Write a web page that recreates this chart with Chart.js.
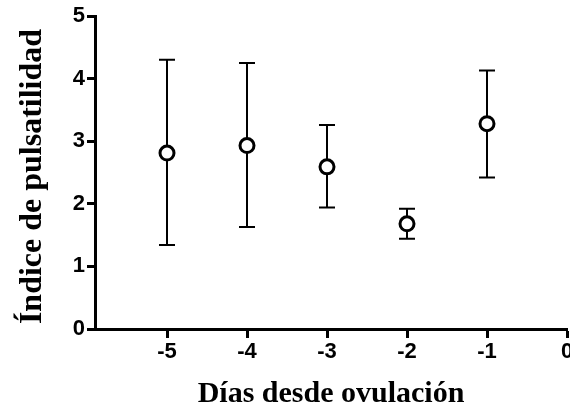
<!DOCTYPE html>
<html>
<head>
<meta charset="utf-8">
<script src="https://cdn.jsdelivr.net/npm/chart.js@4"></script>
<style>
  html, body { margin: 0; padding: 0; background: #fff; overflow: hidden; }
  #wrap { width: 570px; height: 407px; }
</style>
</head>
<body>
<div id="wrap"><canvas id="mycanvas"></canvas></div>
<script>
var days = [-5, -4, -3, -2, -1];
var media = [2.81, 2.93, 2.59, 1.68, 3.28];
var lower = [1.34, 1.63, 1.94, 1.44, 2.42];
var upper = [4.30, 4.25, 3.26, 1.92, 4.13];
var xTicks = [-5, -4, -3, -2, -1, 0];
var yTicks = [0, 1, 2, 3, 4, 5];

var points = [];
for (var i in days) {
  points.push({x: days[i], y: media[i]});
}

// error bars drawn with the chart scales, under the circles
var errorBars = {
  id: 'errorBars',
  beforeDatasetsDraw: function(chart) {
    var ctx = chart.ctx;
    var xs = chart.scales.x, ys = chart.scales.y;
    ctx.save();
    ctx.strokeStyle = '#000';
    ctx.lineWidth = 2;
    for (var i = 0; i < days.length; i++) {
      var px = xs.getPixelForValue(days[i]);
      var top = ys.getPixelForValue(upper[i]);
      var bot = ys.getPixelForValue(lower[i]);
      ctx.beginPath();
      ctx.moveTo(px, top); ctx.lineTo(px, bot);
      ctx.moveTo(px - 8, top); ctx.lineTo(px + 8, top);
      ctx.moveTo(px - 8, bot); ctx.lineTo(px + 8, bot);
      ctx.stroke();
    }
    ctx.restore();
  }
};

var tickFont = {family: 'Liberation Sans, Arial, sans-serif', size: 22, weight: 'bold'};
var titleFont = {family: 'Liberation Serif, Times New Roman, serif', size: 30, weight: 'bold', lineHeight: 1};

var ctx = document.getElementById('mycanvas');
var chart = new Chart(ctx, {
  type: 'scatter',
  data: {
    datasets: [{
      data: points,
      pointRadius: 7,
      pointBorderWidth: 3,
      pointBackgroundColor: '#fff',
      pointBorderColor: '#000',
      showLine: false
    }]
  },
  options: {
    responsive: true,
    maintainAspectRatio: false,
    animation: false,
    layout: {autoPadding: false, padding: {top: 16, right: 3, left: 0, bottom: 0}},
    plugins: {legend: {display: false}, tooltip: {enabled: false}},
    scales: {
      x: {
        type: 'linear',
        min: -5.9,
        max: 0,
        afterBuildTicks: function(axis) {
          axis.ticks = xTicks.map(function(v) { return {value: v}; });
        },
        afterFit: function(axis) {
          axis.paddingLeft = 0;
          axis.paddingRight = 0;
          axis.height = 78;
        },
        border: {display: true, color: '#000', width: 3},
        grid: {drawOnChartArea: false, drawTicks: true, tickLength: 9, tickColor: '#000', tickWidth: 3},
        ticks: {color: '#000', font: tickFont, padding: 1, maxRotation: 0},
        title: {display: true, text: 'Días desde ovulación', color: '#000', font: titleFont, padding: {top: 0, bottom: -2}}
      },
      y: {
        min: 0,
        max: 5,
        afterBuildTicks: function(axis) {
          axis.ticks = yTicks.map(function(v) { return {value: v}; });
        },
        afterFit: function(axis) {
          axis.width = 95;
        },
        border: {display: true, color: '#000', width: 3},
        grid: {drawOnChartArea: false, drawTicks: true, tickLength: 8, tickColor: '#000', tickWidth: 3},
        ticks: {color: '#000', font: tickFont, padding: 2},
        title: {display: true, text: 'Índice de pulsatilidad ', color: '#000',
          font: {family: 'Liberation Serif, Times New Roman, serif', size: 32, weight: 'bold', lineHeight: 1},
          padding: {top: 17, bottom: 0}}
      }
    }
  },
  plugins: [errorBars]
});
</script>
</body>
</html>
